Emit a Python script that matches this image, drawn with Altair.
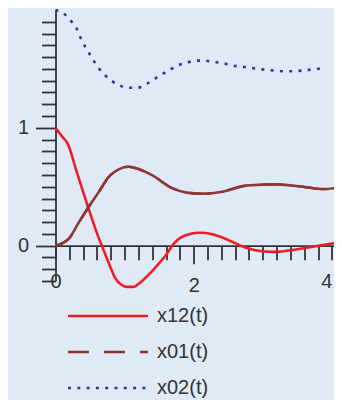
import altair as alt
import pandas as pd

# ---- data ----
series_names = ["x12(t)", "x01(t)", "x02(t)"]

t_x12 = [0, 0.09, 0.18, 0.30, 0.47, 0.61, 0.705, 0.80, 0.86, 0.94, 1.04, 1.13, 1.20, 1.35, 1.49, 1.61, 1.69,
         1.87, 2.10, 2.34, 2.53, 2.77, 3.01, 3.17, 3.39, 3.67, 4.07]
v_x12 = [1.0, 0.93, 0.86, 0.64, 0.33, 0.09, -0.05, -0.19, -0.27, -0.325, -0.35, -0.35, -0.325, -0.245, -0.155,
         -0.07, 0.0, 0.085, 0.11, 0.085, 0.04, -0.02, -0.048, -0.053, -0.04, -0.014, 0.025]

t_x01 = [0, 0.19, 0.33, 0.47, 0.62, 0.78, 0.92, 1.06, 1.20, 1.39, 1.68, 1.90, 2.15, 2.39, 2.77, 3.20, 3.58,
         3.86, 4.07]
v_x01 = [0.0, 0.057, 0.19, 0.32, 0.45, 0.59, 0.65, 0.67, 0.65, 0.60, 0.49, 0.45, 0.44, 0.455, 0.51, 0.52, 0.50,
         0.48, 0.49]

t_x02 = [0, 0.12, 0.22, 0.30, 0.35, 0.41, 0.48, 0.55, 0.62, 0.71, 0.81, 0.93, 1.05, 1.18, 1.31, 1.42,
         1.53, 1.65, 1.77, 1.89, 2.02, 2.16, 2.29, 2.41, 2.55, 2.68, 2.81, 2.94, 3.08, 3.20, 3.33,
         3.47, 3.60, 3.73, 3.88]
v_x02 = [2.0, 1.97, 1.91, 1.85, 1.78, 1.71, 1.64, 1.57, 1.51, 1.45, 1.40, 1.36, 1.34, 1.34, 1.37, 1.41,
         1.45, 1.49, 1.53, 1.55, 1.57, 1.57, 1.56, 1.55, 1.53, 1.52, 1.51, 1.50, 1.49, 1.485, 1.48,
         1.48, 1.49, 1.495, 1.51]

x_tick_values = [round(0.2 * i, 1) for i in range(0, 21)]
y_tick_values = [round(-0.3 + 0.1 * i, 1) for i in range(0, 23)]

# ---- styling ----
colors = ["#ee1c25", "#8b3934", "#2c3a9c"]
dashes = [[1, 0], [21, 15], [3, 6.3]]
bg = "#e0eaf6"
axis_col = "#333333"
font = "Liberation Sans"

rows = []
for name, ts, vs in zip(series_names, [t_x12, t_x01, t_x02], [v_x12, v_x01, v_x02]):
    for t, v in zip(ts, vs):
        rows.append({"series": name, "t": t, "v": v})
df = pd.DataFrame(rows)

W, H = 278.5, 271
x_dom = [0, 4.03]
y_dom = [-0.3, 2.0]
x_axis_offset = -H * (0 - y_dom[0]) / (y_dom[1] - y_dom[0])

x_axis = alt.Axis(
    values=x_tick_values, offset=x_axis_offset, grid=False, title=None,
    domainColor=axis_col, domainWidth=1.8, tickColor=axis_col, tickWidth=1.8,
    tickSize={"condition": {"test": "datum.value == 2", "value": 18}, "value": 14},
    labelFlush=False, labelOverlap=False,
    labelExpr="(datum.value == 0 || datum.value == 2 || datum.value == 4) ? datum.label : ''",
    format=".0f",
    labelAlign={"condition": {"test": "datum.value == 4", "value": "right"}, "value": "center"},
    labelFont=font, labelFontSize=20, labelColor=axis_col, labelPadding=12,
)
y_axis = alt.Axis(
    values=y_tick_values, grid=False, title=None,
    domainColor=axis_col, domainWidth=1.8, tickColor=axis_col, tickWidth=1.8,
    tickSize={"condition": {"test": "datum.value == 0 || datum.value == 1", "value": 20}, "value": 14},
    labelOverlap=False,
    labelExpr="(datum.value == 0 || datum.value == 1) ? datum.label : ''",
    format=".0f",
    labelFont=font, labelFontSize=20, labelColor=axis_col, labelPadding=7,
)

legend = alt.Legend(
    title=None, orient="none", legendX=11, legendY=294.5,
    symbolType="M-4,0H4", symbolSize=400, symbolStrokeWidth=2.6, symbolOffset=30,
    labelFont=font, labelFontSize=20, labelColor=axis_col, labelOffset=37.5,
    rowPadding=14, padding=0,
)

x_enc = alt.X("t:Q", scale=alt.Scale(domain=x_dom, nice=False, zero=False), axis=x_axis)
y_enc = alt.Y("v:Q", scale=alt.Scale(domain=y_dom, nice=False, zero=False), axis=y_axis)

base = alt.Chart(df)
lines = base.mark_line(strokeWidth=2.6, strokeCap="butt", interpolate="monotone").encode(
    x=x_enc,
    y=y_enc,
    color=alt.Color("series:N", scale=alt.Scale(domain=series_names, range=colors), legend=legend),
    strokeDash=alt.StrokeDash("series:N", scale=alt.Scale(domain=series_names, range=dashes), legend=legend),
)
solid_brown = base.transform_filter(alt.datum.series == series_names[1]).mark_line(
    strokeWidth=2.6, color=colors[1], interpolate="monotone"
).encode(x=x_enc, y=y_enc)

chart = alt.layer(lines, solid_brown).properties(
    width=W, height=H,
    padding={"left": 47.5, "top": 2, "right": 0, "bottom": 119},
    autosize=alt.AutoSizeParams(type="none"),
    background=bg,
).configure_view(stroke=None)

chart.save("out.html", embed_options={"renderer": "svg", "actions": False})
